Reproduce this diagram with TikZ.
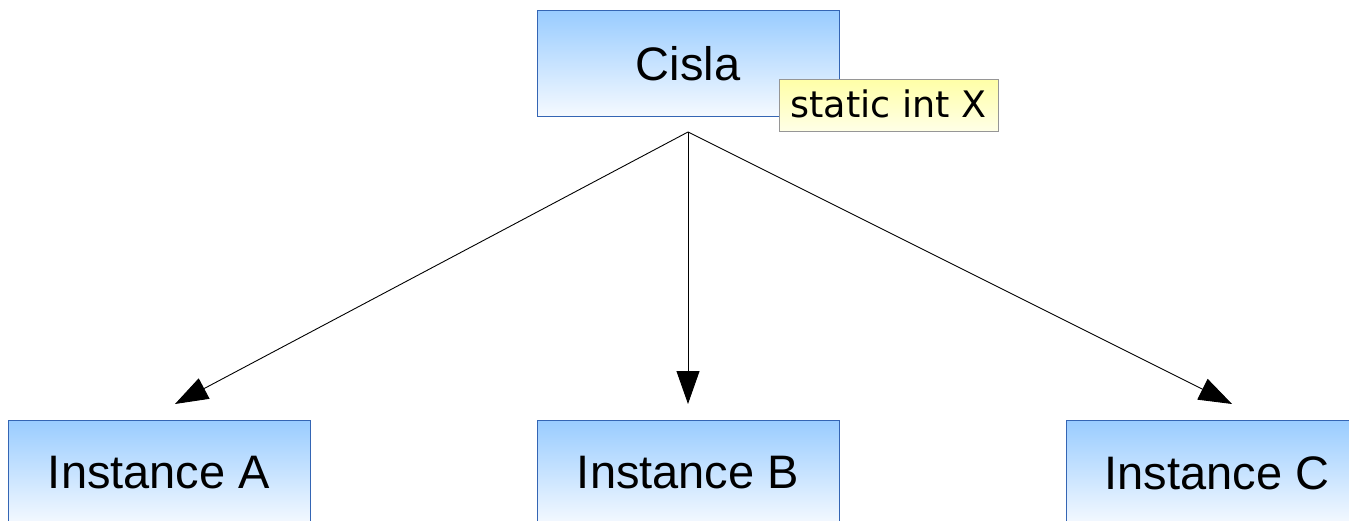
\documentclass[tikz,border=0pt]{standalone}
\usepackage{fontspec}
\setmainfont{Liberation Sans}
\newfontfamily\notefont{DejaVu Sans}
\usetikzlibrary{arrows.meta}

\definecolor{boxtop}{RGB}{153,204,255}
\definecolor{boxbot}{RGB}{246,250,255}
\definecolor{boxline}{RGB}{52,101,180}
\definecolor{notetop}{RGB}{255,255,168}
\definecolor{notebot}{RGB}{255,255,232}
\definecolor{noteline}{RGB}{150,150,150}

\tikzset{
  classbox/.style={draw=boxline, line width=1pt, top color=boxtop, bottom color=boxbot,
    minimum width=302pt, minimum height=106pt, inner sep=0pt,
    font=\fontsize{47}{56}\selectfont},
  notebox/.style={draw=noteline, line width=1pt, top color=notetop, bottom color=notebot,
    minimum width=219pt, minimum height=52pt, inner sep=0pt, anchor=north west},
  link/.style={line width=0.9pt, -{Triangle[length=33pt,width=23pt]}}
}

\begin{document}
\begin{tikzpicture}[x=1pt,y=-1pt]
  \useasboundingbox (0,0) rectangle (1349,521);
  \clip (0,0) rectangle (1349,521);

  % class and its static member
  \node[classbox] (cisla) at (688,64) {Cisla};
  \node[notebox] (note) at (779,79.5) {};
  \node[anchor=base, font=\notefont\fontsize{36.5}{44}\selectfont] (notetext)
    at (888.5,118) {static int X};

  % instances
  \node[classbox] (instA) at (159,473) {Instance A};
  \node[classbox] (instB) at (688,473) {Instance B};
  \node[classbox] (instC) at (1217,473) {Instance C};

  % connector hub and arrow tips
  \coordinate (hub) at (688,132);
  \coordinate (tipA) at (175,404);
  \coordinate (tipB) at (688,404);
  \coordinate (tipC) at (1232,404);

  \draw[link] (hub) -- (tipA);
  \draw[link] (hub) -- (tipB);
  \draw[link] (hub) -- (tipC);
\end{tikzpicture}
\end{document}
